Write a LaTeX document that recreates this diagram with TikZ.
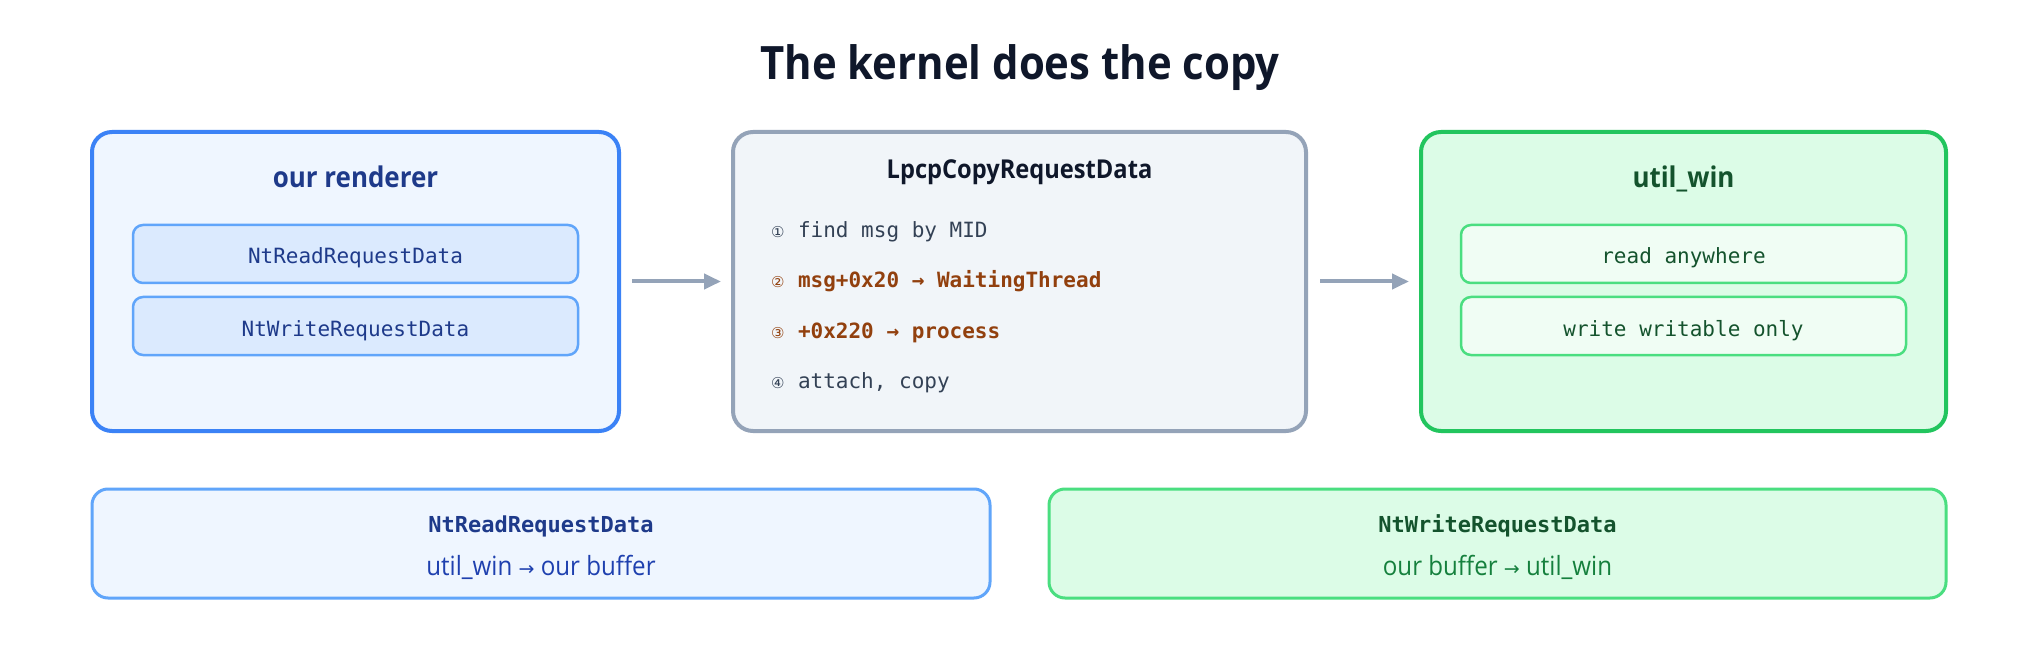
\documentclass[tikz,border=0pt]{standalone}
\usepackage{fontspec}
\usetikzlibrary{arrows.meta}
\setmainfont{Open Sans}
\newfontfamily\sansn{Open Sans}[FakeStretch=0.91]
\setmonofont{DejaVu Sans Mono}
\newfontfamily\symf{DejaVu Sans}
\definecolor{ink}{HTML}{0F172A}
\definecolor{blueS}{HTML}{3B82F6}
\definecolor{blueL}{HTML}{EFF6FF}
\definecolor{blueM}{HTML}{60A5FA}
\definecolor{blueI}{HTML}{DBEAFE}
\definecolor{blueT}{HTML}{1E3A8A}
\definecolor{blueT2}{HTML}{1E40AF}
\definecolor{slateS}{HTML}{94A3B8}
\definecolor{slateL}{HTML}{F1F5F9}
\definecolor{slateT}{HTML}{334155}
\definecolor{amberT}{HTML}{92400E}
\definecolor{greenS}{HTML}{22C55E}
\definecolor{greenL}{HTML}{DCFCE7}
\definecolor{greenM}{HTML}{4ADE80}
\definecolor{greenI}{HTML}{F0FDF4}
\definecolor{greenT}{HTML}{14532D}
\definecolor{greenT2}{HTML}{15803D}
\begin{document}
\begin{tikzpicture}[x=1pt,y=-1pt,
  box/.style={draw, rounded corners=20pt, line width=4pt, inner sep=0pt, outer sep=0pt, minimum height=299pt},
  inbox/.style={draw, rounded corners=10pt, line width=2.5pt, inner sep=0pt, outer sep=0pt, minimum width=445pt, minimum height=58pt},
  botbox/.style={draw, rounded corners=16pt, line width=3pt, inner sep=0pt, outer sep=0pt, minimum height=109pt},
  arr/.style={draw=slateS, line width=4pt, -{Triangle[length=17pt,width=15pt]}},
  txt/.style={inner sep=0pt, outer sep=0pt, anchor=base},
  boxtitle/.style={txt, font=\fontsize{28.5}{32}\selectfont\sansn\bfseries},
  monot/.style={txt, font=\fontsize{21}{24}\selectfont\ttfamily},
  stepline/.style={inner sep=0pt, outer sep=0pt, anchor=base west, font=\fontsize{21}{24}\selectfont\ttfamily},
  digit/.style={inner sep=0pt, outer sep=0pt, anchor=base west, font=\fontsize{15}{18}\selectfont\symf},
]
\useasboundingbox (0,0) rectangle (2040,660);
\fill[white] (0,0) rectangle (2040,660);

\node[txt, text=ink, font=\fontsize{46}{50}\selectfont\sansn\bfseries] (title) at (1020,80) {The kernel does the copy};

% top boxes
\node[box, draw=blueS, fill=blueL, minimum width=527pt] (ren) at (355.5,281.5) {};
\node[box, draw=slateS, fill=slateL, minimum width=573pt] (cpy) at (1019.5,281.5) {};
\node[box, draw=greenS, fill=greenL, minimum width=525pt] (win) at (1683.5,281.5) {};

\node[boxtitle, text=blueT] (renT) at (355.5,188) {our renderer};
\node[boxtitle, text=ink, font=\fontsize{26}{30}\selectfont\sansn\bfseries] (cpyT) at (1019.5,179) {LpcpCopyRequestData};
\node[boxtitle, text=greenT] (winT) at (1683.5,188) {util\_win};

% inner boxes left
\node[inbox, draw=blueM, fill=blueI] (rd) at (355.5,254) {};
\node[inbox, draw=blueM, fill=blueI] (wr) at (355.5,326) {};
\node[monot, text=blueT] (rdT) at (355.5,264) {NtReadRequestData};
\node[monot, text=blueT] (wrT) at (355.5,336) {NtWriteRequestData};

% inner boxes right
\node[inbox, draw=greenM, fill=greenI] (ra) at (1683.5,254) {};
\node[inbox, draw=greenM, fill=greenI] (ww) at (1683.5,326) {};
\node[monot, text=greenT] (raT) at (1683.5,264) {read anywhere};
\node[monot, text=greenT] (wwT) at (1683.5,336) {write writable only};

% steps
\node[digit, text=slateT] (d1) at (771,238) {①};
\node[digit, text=amberT] (d2) at (771,288) {②};
\node[digit, text=amberT] (d3) at (771,338) {③};
\node[digit, text=slateT] (d4) at (771,388) {④};
\node[stepline, text=slateT] (s1) at (798,238) {find msg by MID};
\node[stepline, text=amberT, font=\fontsize{21}{24}\selectfont\ttfamily\bfseries] (s2) at (798,288) {msg+0x20 → WaitingThread};
\node[stepline, text=amberT, font=\fontsize{21}{24}\selectfont\ttfamily\bfseries] (s3) at (798,338) {+0x220 → process};
\node[stepline, text=slateT] (s4) at (798,388) {attach, copy};

% arrows
\draw[arr] ([xshift=13pt]ren.east) -- ([xshift=-12pt]cpy.west);
\draw[arr] ([xshift=14pt]cpy.east) -- ([xshift=-12pt]win.west);

% bottom boxes
\node[botbox, draw=blueM, fill=blueL, minimum width=898pt] (bl) at (541,543.5) {};
\node[botbox, draw=greenM, fill=greenL, minimum width=897pt] (br) at (1497.5,543.5) {};
\node[txt, text=blueT, font=\fontsize{22}{26}\selectfont\ttfamily\bfseries] (blT) at (541,532) {NtReadRequestData};
\node[txt, text=blueT2, font=\fontsize{26.5}{30}\selectfont\sansn] (blS) at (541,575) {util\_win {\symf\fontsize{19}{22}\selectfont →} our buffer};
\node[txt, text=greenT, font=\fontsize{22}{26}\selectfont\ttfamily\bfseries] (brT) at (1497.5,532) {NtWriteRequestData};
\node[txt, text=greenT2, font=\fontsize{26.5}{30}\selectfont\sansn] (brS) at (1497.5,575) {our buffer {\symf\fontsize{19}{22}\selectfont →} util\_win};
\end{tikzpicture}
\end{document}
